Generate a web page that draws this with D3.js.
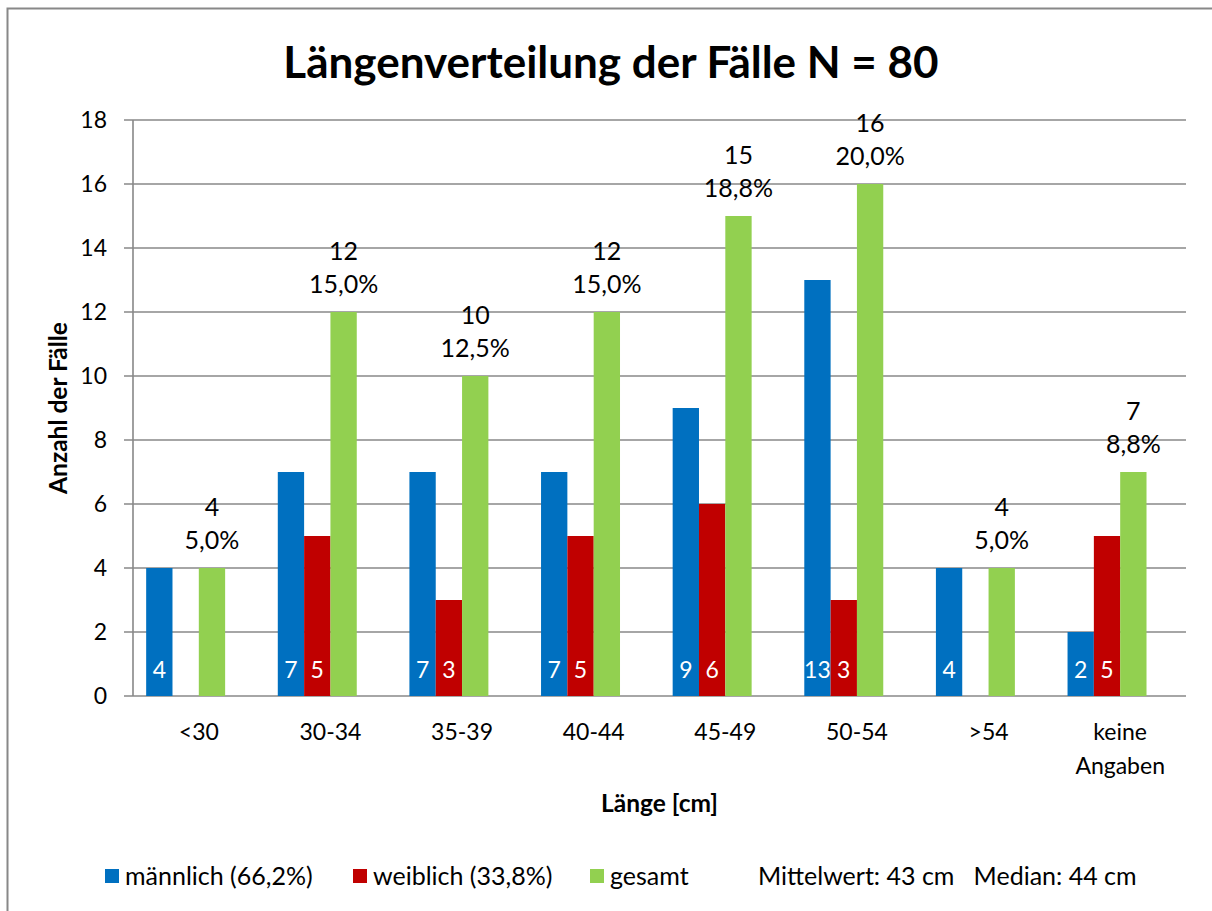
<!DOCTYPE html>
<html><head><meta charset="utf-8">
<script src="https://cdn.jsdelivr.net/npm/d3@7"></script>
<style>body{margin:0;background:#fff}svg{display:block}text{font-family:Lato,"Open Sans",sans-serif}</style>
</head><body><svg id="c" width="1212" height="911"></svg>
<script>
const categories = ["<30","30-34","35-39","40-44","45-49","50-54",">54","keine Angaben"];
const maennlich = [4,7,7,7,9,13,4,2];
const weiblich  = [0,5,3,5,6,3,0,5];
const gesamt    = [4,12,10,12,15,16,4,7];
const gesamtPct = ["5,0%","15,0%","12,5%","15,0%","18,8%","20,0%","5,0%","8,8%"];
const yTicks = [0,2,4,6,8,10,12,14,16,18];
const seriesNames = ["männlich (66,2%)","weiblich (33,8%)","gesamt"];
const colors = ["#0070C0","#C00000","#92D050"];
const title = "Längenverteilung der Fälle N = 80";
const xTitle = "Länge [cm]", yTitle = "Anzahl der Fälle";
const stats = "Mittelwert: 43 cm   Median: 44 cm";

const svg = d3.select("#c");
svg.append("rect").attr("x",7.5).attr("y",8.5).attr("width",1215).attr("height",910)
  .attr("fill","#fff").attr("stroke","#888").attr("stroke-width",2);

const L=133, R=1186, T=120, B=696;
const x = d3.scaleBand().domain(categories).range([L,R]).paddingInner(0).paddingOuter(0);
const y = d3.scaleLinear().domain([0,18]).range([B,T]);
const bw = x.bandwidth()/5;
// four slots per cluster (the fourth is an empty helper series), gap = one bar
const sub = d3.scaleBand().domain([0,1,2,3]).range([bw/2, bw/2+4*bw]);

// grid
svg.append("g").selectAll("line").data(yTicks).join("line")
  .attr("x1",L-9).attr("x2",R).attr("y1",d=>y(d)).attr("y2",d=>y(d))
  .attr("stroke","#888").attr("stroke-width",1.6);
svg.append("line").attr("x1",L).attr("x2",L).attr("y1",T).attr("y2",B).attr("stroke","#888").attr("stroke-width",1.6);
svg.append("g").selectAll("text").data(yTicks).join("text")
  .attr("x",107).attr("y",d=>y(d)+8).attr("text-anchor","end").attr("font-size",23).text(d=>d);

const series=[maennlich,weiblich,gesamt];
series.forEach((vals,si)=>{
  const g = svg.append("g");
  const data = vals.map((v,i)=>({v,c:categories[i]})).filter(d=>d.v>0);
  g.selectAll("rect").data(data).join("rect")
    .attr("x",d=>x(d.c)+sub(si)).attr("width",bw)
    .attr("y",d=>y(d.v)).attr("height",d=>B-y(d.v)).attr("fill",colors[si]);
  if(si<2){
    g.selectAll("text").data(data).join("text")
      .attr("x",d=>x(d.c)+sub(si)+bw/2).attr("y",B-18).attr("text-anchor","middle")
      .attr("font-size",23).attr("fill","#fff").text(d=>d.v);
  }
});
// gesamt labels
const gl = svg.append("g");
gesamt.forEach((v,i)=>{
  const cx = x(categories[i])+sub(2)+bw/2;
  gl.append("text").attr("x",cx).attr("y",y(v)-52).attr("text-anchor","middle").attr("font-size",25).text(v);
  gl.append("text").attr("x",cx).attr("y",y(v)-19).attr("text-anchor","middle").attr("font-size",25).text(gesamtPct[i]);
});
// x labels
categories.forEach(c=>{
  const cx = x(c)+x.bandwidth()/2;
  const t = svg.append("text").attr("x",cx).attr("y",740).attr("text-anchor","middle").attr("font-size",23);
  c.split(" ").forEach((w,k)=>t.append("tspan").attr("x",cx).attr("dy",k?34:0).text(w));
});
svg.append("text").attr("x",(L+R)/2).attr("y",812).attr("text-anchor","middle").attr("font-size",24.5).attr("font-weight","bold").text(xTitle);
svg.append("text").attr("transform",`translate(67,${(T+B)/2}) rotate(-90)`).attr("text-anchor","middle").attr("font-size",24.5).attr("font-weight","bold").text(yTitle);
svg.append("text").attr("x",611).attr("y",78).attr("text-anchor","middle").attr("font-size",44).attr("font-weight","bold").text(title);

// legend
const legX=[105,353,590];
seriesNames.forEach((n,i)=>{
  svg.append("rect").attr("x",legX[i]).attr("y",869).attr("width",14).attr("height",14).attr("fill",colors[i]);
  svg.append("text").attr("x",legX[i]+20).attr("y",885).attr("font-size",25).text(n);
});
svg.append("text").attr("x",758).attr("y",885).attr("font-size",25).style("white-space","pre").text(stats);
</script></body></html>
